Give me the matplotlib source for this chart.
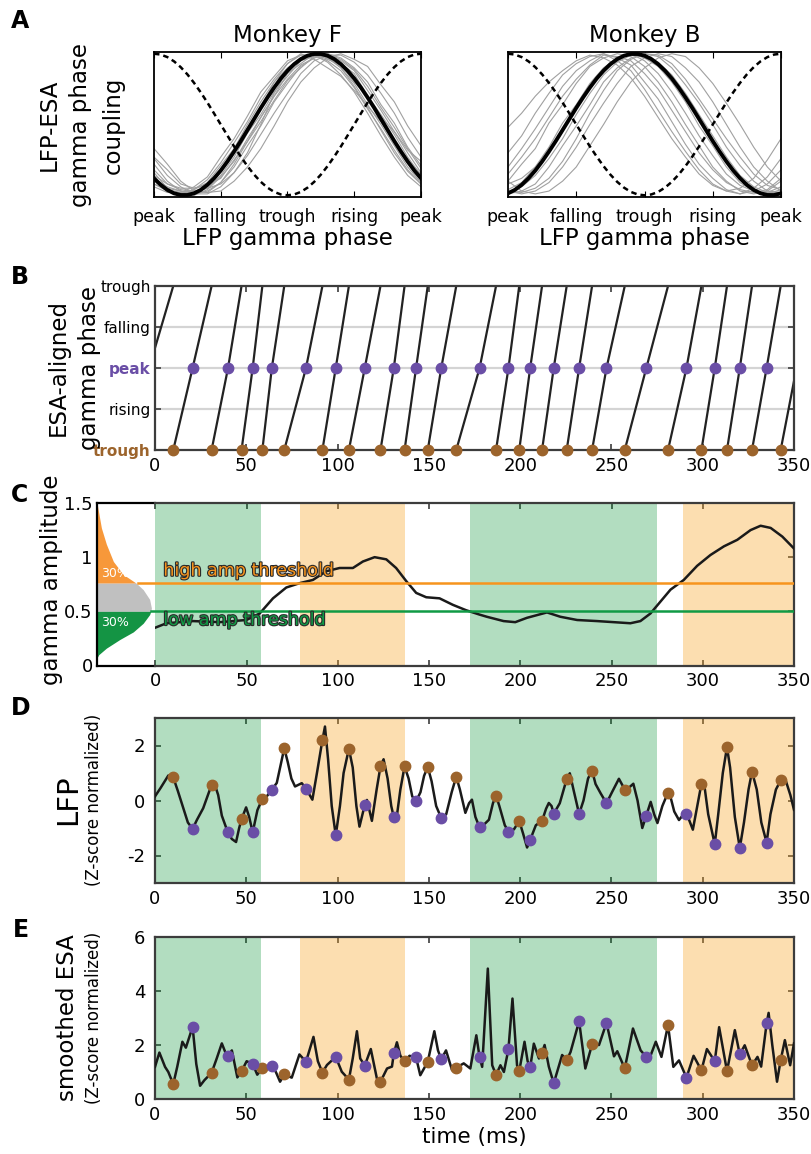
import numpy as np
import matplotlib
matplotlib.use("Agg")
import matplotlib.pyplot as plt
import matplotlib.patheffects as pe

plt.rcParams['axes.unicode_minus'] = False
plt.rcParams['lines.solid_joinstyle'] = 'round'

# ---------------- panel A: phase coupling ----------------
phase_ticks = [0, 0.25, 0.5, 0.75, 1.0]
phase_labels = ["peak", "falling", "trough", "rising", "peak"]
grid21 = np.linspace(0, 1, 21)
grid41 = np.linspace(0, 1, 41)

lfp_ref = [1, 0.994, 0.976, 0.946, 0.905, 0.854, 0.794, 0.727, 0.655, 0.578, 0.5,
           0.422, 0.345, 0.273, 0.206, 0.146, 0.095, 0.054, 0.024, 0.006, 0,
           0.006, 0.024, 0.054, 0.095, 0.146, 0.206, 0.273, 0.345, 0.422, 0.5,
           0.578, 0.655, 0.727, 0.794, 0.854, 0.905, 0.946, 0.976, 0.994, 1]
fit_F = [0.120, 0.074, 0.038, 0.014, 0.002, 0.002, 0.014, 0.038, 0.074, 0.120, 0.175,
         0.239, 0.309, 0.383, 0.461, 0.539, 0.617, 0.691, 0.761, 0.825, 0.880,
         0.926, 0.962, 0.986, 0.998, 0.998, 0.986, 0.962, 0.926, 0.880, 0.825,
         0.761, 0.691, 0.617, 0.539, 0.461, 0.383, 0.309, 0.239, 0.175, 0.120]
fit_B = [0.014, 0.038, 0.074, 0.120, 0.175, 0.239, 0.309, 0.383, 0.461, 0.539, 0.617,
         0.691, 0.761, 0.825, 0.880, 0.926, 0.962, 0.986, 0.998, 0.998, 0.986,
         0.962, 0.926, 0.880, 0.825, 0.761, 0.691, 0.617, 0.539, 0.461, 0.383,
         0.309, 0.239, 0.175, 0.120, 0.074, 0.038, 0.014, 0.002, 0.002, 0.014]

traces_F = [
    [0.10, 0.03, 0.01, 0.04, 0.09, 0.21, 0.33, 0.50, 0.66, 0.80, 0.90, 0.97, 1.00, 0.97, 0.90, 0.79, 0.64, 0.50, 0.35, 0.20, 0.09],
    [0.16, 0.05, 0.03, 0.02, 0.05, 0.14, 0.27, 0.44, 0.57, 0.73, 0.84, 0.95, 0.98, 1.00, 0.93, 0.86, 0.70, 0.57, 0.43, 0.27, 0.14],
    [0.22, 0.10, 0.03, 0.01, 0.03, 0.09, 0.20, 0.35, 0.49, 0.66, 0.79, 0.91, 0.97, 1.00, 0.97, 0.90, 0.80, 0.64, 0.51, 0.34, 0.21],
    [0.06, 0.02, 0.02, 0.06, 0.13, 0.27, 0.40, 0.56, 0.73, 0.84, 0.95, 0.99, 0.99, 0.94, 0.85, 0.73, 0.58, 0.42, 0.27, 0.14, 0.06],
    [0.33, 0.22, 0.10, 0.03, 0.02, 0.03, 0.10, 0.20, 0.33, 0.49, 0.66, 0.80, 0.90, 0.97, 1.00, 0.96, 0.91, 0.78, 0.66, 0.49, 0.35],
    [0.27, 0.18, 0.08, 0.05, 0.07, 0.12, 0.25, 0.38, 0.55, 0.70, 0.86, 0.93, 1.00, 0.96, 0.92, 0.80, 0.70, 0.55, 0.45, 0.32, 0.24],
    [0.08, 0.04, 0.02, 0.03, 0.05, 0.08, 0.16, 0.30, 0.50, 0.72, 0.88, 0.97, 1.00, 0.98, 0.90, 0.77, 0.62, 0.46, 0.30, 0.17, 0.08],
    [0.12, 0.06, 0.03, 0.00, 0.04, 0.13, 0.24, 0.40, 0.55, 0.70, 0.82, 0.92, 0.97, 1.00, 0.95, 0.88, 0.74, 0.60, 0.45, 0.30, 0.16],
    [0.26, 0.14, 0.06, 0.01, 0.01, 0.06, 0.16, 0.28, 0.43, 0.58, 0.72, 0.86, 0.95, 0.99, 0.99, 0.94, 0.85, 0.72, 0.58, 0.41, 0.27],
    [0.08, 0.03, 0.00, 0.04, 0.11, 0.23, 0.37, 0.52, 0.69, 0.82, 0.93, 0.99, 0.99, 0.95, 0.88, 0.76, 0.61, 0.47, 0.32, 0.18, 0.08],
    [0.14, 0.08, 0.05, 0.05, 0.08, 0.18, 0.30, 0.45, 0.62, 0.80, 0.93, 1.00, 0.96, 0.90, 0.84, 0.74, 0.63, 0.52, 0.38, 0.25, 0.15],
    [0.18, 0.08, 0.04, 0.03, 0.02, 0.09, 0.22, 0.38, 0.52, 0.67, 0.81, 0.90, 0.98, 1.00, 0.96, 0.89, 0.77, 0.62, 0.48, 0.33, 0.19],
]
traces_B = [
    [0.48, 0.58, 0.70, 0.80, 0.88, 0.95, 0.99, 0.97, 0.92, 0.83, 0.70, 0.55, 0.40, 0.27, 0.15, 0.07, 0.03, 0.05, 0.12, 0.25, 0.40],
    [0.20, 0.33, 0.47, 0.62, 0.77, 0.88, 0.95, 1.00, 0.97, 0.92, 0.80, 0.68, 0.52, 0.36, 0.22, 0.12, 0.04, 0.01, 0.03, 0.08, 0.18],
    [0.10, 0.22, 0.33, 0.51, 0.64, 0.79, 0.91, 0.97, 1.00, 0.98, 0.91, 0.80, 0.66, 0.50, 0.35, 0.20, 0.10, 0.03, 0.01, 0.03, 0.10],
    [0.04, 0.09, 0.20, 0.34, 0.51, 0.64, 0.79, 0.90, 0.97, 1.00, 0.97, 0.91, 0.80, 0.66, 0.49, 0.35, 0.20, 0.09, 0.03, 0.01, 0.04],
    [0.01, 0.03, 0.08, 0.20, 0.35, 0.49, 0.64, 0.80, 0.90, 0.97, 1.00, 0.98, 0.90, 0.78, 0.65, 0.50, 0.34, 0.21, 0.10, 0.03, 0.02],
    [0.03, 0.01, 0.03, 0.09, 0.20, 0.34, 0.50, 0.65, 0.79, 0.91, 0.97, 1.00, 0.98, 0.90, 0.80, 0.66, 0.50, 0.34, 0.20, 0.10, 0.03],
    [0.10, 0.03, 0.01, 0.03, 0.10, 0.20, 0.35, 0.50, 0.66, 0.80, 0.90, 0.97, 1.00, 0.98, 0.90, 0.79, 0.65, 0.50, 0.34, 0.20, 0.10],
    [0.08, 0.12, 0.20, 0.30, 0.45, 0.62, 0.76, 0.88, 0.95, 1.00, 0.95, 0.86, 0.73, 0.58, 0.42, 0.28, 0.15, 0.07, 0.03, 0.02, 0.06],
    [0.02, 0.06, 0.14, 0.26, 0.40, 0.57, 0.72, 0.85, 0.94, 0.99, 0.99, 0.94, 0.85, 0.72, 0.57, 0.42, 0.27, 0.14, 0.06, 0.02, 0.02],
    [0.30, 0.42, 0.58, 0.72, 0.85, 0.93, 0.98, 1.00, 0.95, 0.88, 0.75, 0.60, 0.45, 0.31, 0.18, 0.08, 0.03, 0.01, 0.05, 0.13, 0.26],
    [0.03, 0.02, 0.05, 0.12, 0.24, 0.40, 0.58, 0.74, 0.88, 0.96, 1.00, 0.99, 0.93, 0.82, 0.68, 0.54, 0.40, 0.27, 0.15, 0.07, 0.04],
    [0.15, 0.27, 0.40, 0.55, 0.70, 0.82, 0.92, 0.99, 0.98, 0.95, 0.86, 0.75, 0.60, 0.45, 0.30, 0.18, 0.09, 0.04, 0.02, 0.04, 0.12],
]

# ---------------- panels B-E: shared timing ----------------
time_ticks = [0, 50, 100, 150, 200, 250, 300, 350]
trough_t = [10, 31, 47.4, 58.8, 70.8, 91.7, 106.2, 123.5, 136.7, 149.4, 165, 186.8,
            199.5, 212, 225.5, 239.4, 257.3, 281, 299.3, 313.3, 327, 342.7]
peak_t = [20.6, 40, 53.5, 64, 82.7, 99, 114.9, 130.8, 143, 156.8, 177.8, 193.6,
          205.5, 218.4, 232.3, 247.3, 269.1, 291.1, 306.6, 320.3, 335]
b_start = (0, 0.77)      # phase of the partial cycle at t=0
b_end = (350, -0.5)      # phase of the partial cycle at t=350
green_spans = [(0, 58), (172.4, 274.8)]
orange_spans = [(79.2, 136.8), (289.1, 350)]

# panel C: gamma amplitude
amp_t = [0, 6, 20.6, 35.2, 49.8, 57.1, 64.4, 71.7, 79, 86.3, 93.6, 100.9, 108.2, 113.7,
         120.1, 126.5, 131.9, 137.4, 142.9, 148.4, 155.7, 163, 170.3, 177.6, 181.6,
         190.8, 197.2, 203.6, 214.6, 221.9, 231.1, 242.1, 251.2, 260.3, 265.8, 271.3,
         276.8, 282.3, 289.6, 296.9, 304.2, 311.6, 318.9, 326.2, 331.7, 337.2, 343.6, 350]
amp_v = [0.35, 0.39, 0.41, 0.40, 0.42, 0.48, 0.62, 0.72, 0.76, 0.79, 0.87, 0.90, 0.90, 0.96,
         1.00, 0.98, 0.90, 0.78, 0.67, 0.63, 0.62, 0.56, 0.51, 0.47, 0.45,
         0.41, 0.40, 0.44, 0.49, 0.45, 0.42, 0.41, 0.40, 0.39, 0.41, 0.48,
         0.59, 0.70, 0.79, 0.92, 1.02, 1.10, 1.16, 1.25, 1.29, 1.27, 1.19, 1.08]
dist_amp = [0.07, 0.10, 0.16, 0.24, 0.31, 0.39, 0.47, 0.50, 0.53, 0.61, 0.70, 0.76,
            0.84, 0.96, 1.12, 1.27, 1.5]
dist_dens = [0, 0.03, 0.16, 0.39, 0.62, 0.79, 0.90, 0.92, 0.93, 0.90, 0.79, 0.67,
             0.45, 0.28, 0.16, 0.075, 0]
high_thr, low_thr = 0.76, 0.50
high_thr_dens, low_thr_dens = 0.70, 0.92

# panel D: LFP
lfp_t = [0, 3, 7.3, 10, 12.5, 15.5, 18, 20.6, 23, 26.4, 29, 31, 32.5, 34.6, 36.6, 39.9, 42.1,
         44.4, 46.1, 47.4, 49.9, 51.6, 53.5, 56.1, 58.8, 61.2, 64, 66.7, 69.2, 70.8, 72.7,
         74.7, 76.7, 80.4, 82.7, 86.2, 88.7, 91.7, 93.1, 94.8, 96.8, 99, 101.3, 103.3,
         106.2, 108.3, 110.3, 112, 113.8, 114.9, 116.1, 118.8, 121.4, 123.5, 125.2, 127.4,
         129.4, 130.8, 132.4, 134.4, 136.7, 138.9, 140.9, 143, 145.4, 147.4, 149.4, 151.5,
         154, 156.8, 159.5, 162.5, 165, 167, 170, 172, 173.6, 175.5, 177.8, 180.6, 182.9,
         185.1, 186.8, 188.6, 191.6, 193.6, 196.6, 199.5, 201.6, 203.8, 205.5, 208.6, 212,
         214.2, 215.7, 217.2, 218.4, 221.7, 225.5, 227.2, 229.2, 232.3, 234.7, 237.2,
         239.4, 241.3, 244.1, 247.3, 250.3, 254.1, 257.3, 259.3, 262, 264.3, 266.9, 269.1,
         271.5, 273.4, 275.2, 277.9, 281, 281.9, 284.4, 287, 288.9, 291.1, 292.5, 294.6,
         297, 299.3, 301, 303, 306.6, 308.5, 311, 313.3, 315, 317.6, 320.3, 322.6, 325.1,
         327, 329.6, 332.1, 335, 337.1, 340.1, 342.7, 345.6, 348, 350]
lfp_v = [0.15, 0.45, 0.91, 0.84, 0.35, -0.28, -0.8, -1.03, -0.7, -0.28, 0.2, 0.57, 0.63, 0.2,
         -0.55, -1.16, -1.4, -1.51, -1.0, -0.68, -0.25, -0.6, -1.16, -0.35, 0.06, 0.15, 0.39,
         0.64, 1.4, 1.9, 1.4, 0.8, 0.51, 0.63, 0.43, 0.03, 1.0, 2.2, 2.69, 1.5, -0.2, -1.27,
         -0.2, 1.0, 1.88, 1.2, -0.2, -0.95, -0.45, -0.16, 0.02, -0.74, 0.4, 1.24, 1.5, 0.8,
         -0.2, -0.61, -0.6, 0.4, 1.24, 0.8, 0.15, -0.03, 0.3, 0.9, 1.22, 0.7, -0.2, -0.64,
         -0.5, 0.3, 0.87, 0.4, -0.45, -0.1, 0.03, -0.6, -0.98, -0.85, -0.7, -0.1, 0.18, -0.2,
         -0.9, -1.13, -1.05, -0.74, -1.2, -1.71, -1.43, -0.9, -0.74, -0.3, -0.09, -0.2,
         -0.48, -0.1, 0.78, 0.99, 0.4, -0.49, 0.0, 0.8, 1.09, 0.6, 0.26, -0.10, 0.3, 0.79,
         0.4, 0.45, 0.61, 0.0, -1.0, -0.55, -0.05, -0.5, -0.82, -0.2, 0.29, 0.25, -0.4,
         -0.71, -0.55, -0.49, -0.7, -1.06, -0.2, 0.61, 0.5, -0.5, -1.59, -0.5, 1.0, 1.94,
         1.2, -0.6, -1.73, -0.8, 0.4, 1.05, 0.4, -0.8, -1.53, -0.5, 0.4, 0.73, 0.7, 0.2, -0.34]
lfp_trough_v = [0.84, 0.57, -0.68, 0.06, 1.9, 2.2, 1.88, 1.24, 1.24, 1.22, 0.87, 0.18,
                -0.74, -0.74, 0.78, 1.09, 0.4, 0.29, 0.61, 1.94, 1.05, 0.73]
lfp_peak_v = [-1.03, -1.16, -1.16, 0.39, 0.43, -1.27, -0.16, -0.61, -0.03, -0.64, -0.98,
              -1.13, -1.43, -0.48, -0.49, -0.10, -0.55, -0.49, -1.59, -1.73, -1.53]

# panel E: smoothed ESA
esa_t = [0, 2.4, 5.5, 7.3, 10, 12.2, 15, 16.9, 20.6, 22.6, 24.7, 27.1, 31, 33.8, 36.6, 38.4,
         40, 42.1, 45.1, 47.4, 50.2, 53.5, 56, 58.8, 61.2, 64, 66.2, 68.5, 70.8, 74.9, 79.1,
         82.7, 86.8, 89.2, 91.7, 94.2, 99, 102.3, 106.2, 108.3, 110.6, 112.4, 114.9, 118.2,
         121.5, 123.5, 127.1, 129.8, 130.8, 132.5, 134.4, 136.7, 139.4, 143, 145.3, 149.4,
         153, 155, 156.8, 159.4, 162.7, 165, 169.1, 172.7, 176, 177.8, 179.2, 182.3, 184.7,
         186.8, 189.2, 191.1, 193.6, 195.8, 198.3, 199.5, 202.4, 204.1, 205.5, 207.5, 210.3,
         212, 213.4, 215.7, 218.4, 223, 225.5, 227.6, 232.3, 235.7, 239.4, 243.2, 247.3,
         251.4, 253.2, 257.3, 261.8, 266, 269.1, 271.4, 274.3, 277.4, 281, 283.9, 287, 291.1,
         295, 299.3, 302.3, 306.6, 309, 313.3, 317.6, 320.3, 323, 327, 330, 332, 335, 336.1,
         338.1, 340.7, 342.7, 345, 347.9, 350]
esa_v = [1.19, 1.72, 1.19, 1.0, 0.55, 1.2, 2.12, 1.9, 2.67, 1.3, 0.49, 0.7, 0.97, 1.5, 2.06,
         1.75, 1.6, 1.8, 0.8, 1.03, 1.4, 1.3, 0.9, 1.14, 1.2, 1.23, 1.0, 0.64, 0.91, 0.79,
         1.65, 1.38, 2.3, 1.4, 0.98, 1.26, 1.56, 1.01, 0.72, 1.5, 2.51, 1.5, 1.24, 1.85,
         0.77, 0.64, 1.13, 1.2, 1.69, 2.1, 1.6, 1.40, 1.6, 1.54, 0.88, 1.38, 2.51, 1.8, 1.47,
         1.8, 1.07, 1.16, 1.32, 1.13, 2.36, 1.54, 1.19, 4.83, 1.25, 0.89, 1.25, 1.0, 1.85,
         3.72, 1.25, 1.03, 2.12, 1.4, 1.17, 2.05, 1.5, 1.72, 2.0, 1.2, 0.58, 1.63, 1.44, 1.74,
         2.88, 1.13, 2.02, 2.0, 2.82, 1.58, 1.77, 1.13, 2.61, 1.8, 1.56, 1.6, 2.12, 1.56,
         2.74, 1.19, 1.43, 0.79, 1.6, 1.06, 1.85, 1.40, 2.66, 1.03, 2.55, 1.65, 1.99, 1.25,
         1.56, 1.2, 2.8, 3.19, 2.0, 0.64, 1.44, 2.18, 1.25, 2.06]
esa_trough_v = [0.55, 0.97, 1.03, 1.14, 0.91, 0.98, 0.72, 0.64, 1.40, 1.38, 1.16, 0.89,
                1.03, 1.72, 1.44, 2.02, 1.13, 2.74, 1.06, 1.03, 1.25, 1.44]
esa_peak_v = [2.67, 1.60, 1.30, 1.23, 1.38, 1.56, 1.24, 1.69, 1.54, 1.47, 1.54, 1.85,
              1.17, 0.58, 2.88, 2.82, 1.56, 0.79, 1.40, 1.65, 2.80]

PURPLE = '#6a4ea6'
BROWN = '#9c642c'
ORANGE = '#f7941d'
GREEN = '#109a45'
SPINE = '#3c3c3c'

W, H = 812.0, 1154.0
fig = plt.figure(figsize=(W / 100, H / 100), dpi=100)


def rect(x0, y0, x1, y1):
    return [x0 / W, 1 - y1 / H, (x1 - x0) / W, (y1 - y0) / H]


def time_axis(ax):
    ax.set_xlim(0, 350)
    ax.set_xticks(time_ticks)
    ax.tick_params(direction='in', top=True, right=True, length=4, width=1.2,
                   labelsize=13, pad=5, color=SPINE)
    for s in ax.spines.values():
        s.set_color(SPINE)
        s.set_linewidth(1.6)


def shade(ax):
    for a, b in green_spans:
        ax.axvspan(a, b, color='#02912f', alpha=0.3, lw=0, zorder=2)
    for a, b in orange_spans:
        ax.axvspan(a, b, color='#f8a11d', alpha=0.35, lw=0, zorder=2)


# ---- A ----
for box, traces, fit, title in [((154, 52, 421, 197), traces_F, fit_F, "Monkey F"),
                                ((508, 52, 781, 197), traces_B, fit_B, "Monkey B")]:
    ax = fig.add_axes(rect(*box))
    for tr in traces:
        ax.plot(grid21, tr, color='#a0a0a0', lw=0.8)
    ax.plot(grid41, lfp_ref, color='k', lw=1.8, linestyle=(0, (2.2, 1.6)))
    ax.plot(grid41, fit, color='k', lw=2.8)
    ax.set_xlim(0, 1)
    ax.set_ylim(-0.012, 1.012)
    ax.set_yticks([])
    ax.set_xticks(phase_ticks)
    ax.set_xticklabels(phase_labels)
    ax.tick_params(axis='x', direction='in', top=True, length=4, labelsize=12.5, pad=8)
    for s in ax.spines.values():
        s.set_linewidth(1.3)
    ax.set_title(title, fontsize=16.5, pad=7)
    ax.set_xlabel("LFP gamma phase", fontsize=16.5, labelpad=1)

fig.text(81 / W, 1 - 125 / H, "LFP-ESA\ngamma phase\ncoupling", rotation=90,
         ha='center', va='center', fontsize=16.5, linespacing=1.5)

# ---- B ----
axB = fig.add_axes(rect(155, 286, 794, 450))
for yv in [-np.pi / 2, 0, np.pi / 2]:
    axB.axhline(yv, color='#d4d4d4', lw=1.6, zorder=1)
axB.plot([b_start[0], trough_t[0]], [b_start[1], np.pi], color='#222222', lw=1.6)
for i in range(len(peak_t)):
    axB.plot([trough_t[i], peak_t[i], trough_t[i + 1]], [-np.pi, 0, np.pi],
             color='#222222', lw=1.6)
axB.plot([trough_t[-1], b_end[0]], [-np.pi, b_end[1]], color='#222222', lw=1.6)
axB.plot(peak_t, np.zeros(len(peak_t)), 'o', color=PURPLE, ms=7.5, zorder=4, clip_on=False)
axB.plot(trough_t, np.full(len(trough_t), -np.pi), 'o', color=BROWN, ms=7.5, zorder=4,
         clip_on=False)
axB.set_ylim(-np.pi, np.pi)
axB.set_yticks([-np.pi, -np.pi / 2, 0, np.pi / 2, np.pi])
axB.set_yticklabels(["trough", "rising", "peak", "falling", "trough"])
time_axis(axB)
axB.tick_params(axis='y', labelsize=11, pad=3)
ylabs = axB.get_yticklabels()
ylabs[0].set_color(BROWN)
ylabs[0].set_fontweight('bold')
ylabs[2].set_color(PURPLE)
ylabs[2].set_fontweight('bold')
fig.text(74 / W, 1 - 368 / H, "ESA-aligned\ngamma phase", rotation=90, ha='center',
         va='center', fontsize=16.5, linespacing=1.45)

# ---- C ----
axCi = fig.add_axes(rect(97, 503, 155.5, 665.5))
amp_arr = np.array(dist_amp)
axCi.fill_betweenx(dist_amp, 0, dist_dens, where=amp_arr >= high_thr, color='#f7983a', lw=0)
axCi.fill_betweenx(dist_amp, 0, dist_dens, where=(amp_arr >= low_thr) & (amp_arr <= high_thr),
                   color='#c0c0c0', lw=0)
axCi.fill_betweenx(dist_amp, 0, dist_dens, where=amp_arr <= low_thr, color='#149444', lw=0)
axCi.plot([high_thr_dens, 1], [high_thr, high_thr], color=ORANGE, lw=1.8)
axCi.plot([low_thr_dens, 1], [low_thr, low_thr], color=GREEN, lw=1.8)
axCi.text(0.3, 0.85, "30%", color='white', fontsize=9, ha='center', va='center')
axCi.text(0.3, 0.40, "30%", color='white', fontsize=9, ha='center', va='center')
axCi.set_xlim(0, 1)
axCi.set_ylim(0, 1.5)
axCi.set_xticks([])
axCi.set_yticks([0, 0.5, 1, 1.5])
axCi.set_yticklabels(["0", "0.5", "1", "1.5"])
axCi.tick_params(axis='y', length=0, labelsize=13, pad=3)
axCi.spines['right'].set_visible(False)
for s in ['left', 'top', 'bottom']:
    axCi.spines[s].set_linewidth(1.6)

axC = fig.add_axes(rect(155.5, 503, 794, 665.5))
shade(axC)
axC.plot(amp_t, amp_v, color='#1a1a1a', lw=1.8, zorder=3)
axC.axhline(high_thr, color=ORANGE, lw=1.8, zorder=3)
axC.axhline(low_thr, color=GREEN, lw=1.8, zorder=3)
outline = [pe.Stroke(linewidth=1.6, foreground='#2a2a2a'), pe.Normal()]
axC.text(4.3, 0.875, "high amp threshold", color=ORANGE, fontsize=12.6, va='center',
         zorder=4, path_effects=outline)
axC.text(4.3, 0.42, "low amp threshold", color=GREEN, fontsize=12.6, va='center',
         zorder=4, path_effects=outline)
axC.set_ylim(0, 1.5)
axC.set_yticks([0, 0.5, 1, 1.5])
time_axis(axC)
axC.tick_params(axis='y', left=False, labelleft=False)
axC.spines['left'].set_visible(False)
fig.text(52 / W, 1 - 580 / H, "gamma amplitude", rotation=90, ha='center', va='center',
         fontsize=16.5)

# ---- D ----
axD = fig.add_axes(rect(155, 718, 794, 883))
shade(axD)
axD.plot(lfp_t, lfp_v, color='#1a1a1a', lw=1.8, zorder=3)
axD.plot(trough_t, lfp_trough_v, 'o', color=BROWN, ms=7.5, zorder=4)
axD.plot(peak_t, lfp_peak_v, 'o', color=PURPLE, ms=7.5, zorder=4)
axD.set_ylim(-3, 3)
axD.set_yticks([-2, 0, 2])
time_axis(axD)
axD.tick_params(axis='y', pad=7)
fig.text(68 / W, 1 - 800 / H, "LFP", rotation=90, ha='center', va='center', fontsize=21)
fig.text(94 / W, 1 - 800 / H, "(Z-score normalized)", rotation=90, ha='center',
         va='center', fontsize=12)

# ---- E ----
axE = fig.add_axes(rect(155, 937, 794, 1099))
shade(axE)
axE.plot(esa_t, esa_v, color='#1a1a1a', lw=1.8, zorder=3)
axE.plot(trough_t, esa_trough_v, 'o', color=BROWN, ms=7.5, zorder=4)
axE.plot(peak_t, esa_peak_v, 'o', color=PURPLE, ms=7.5, zorder=4)
axE.set_ylim(0, 6)
axE.set_yticks([0, 2, 4, 6])
time_axis(axE)
axE.tick_params(axis='y', pad=7)
axE.set_xlabel("time (ms)", fontsize=15.5, labelpad=2)
fig.text(68 / W, 1 - 1018 / H, "smoothed ESA", rotation=90, ha='center', va='center',
         fontsize=16.5)
fig.text(94 / W, 1 - 1018 / H, "(Z-score normalized)", rotation=90, ha='center',
         va='center', fontsize=12)

# panel letters
for letter, (px, py) in zip("ABCDE", [(20, 21), (20, 277), (20, 495), (21, 708), (21, 930)]):
    fig.text(px / W, 1 - py / H, letter, fontsize=17, fontweight='bold', ha='center',
             va='center')

fig.savefig("out.png", dpi=100)
